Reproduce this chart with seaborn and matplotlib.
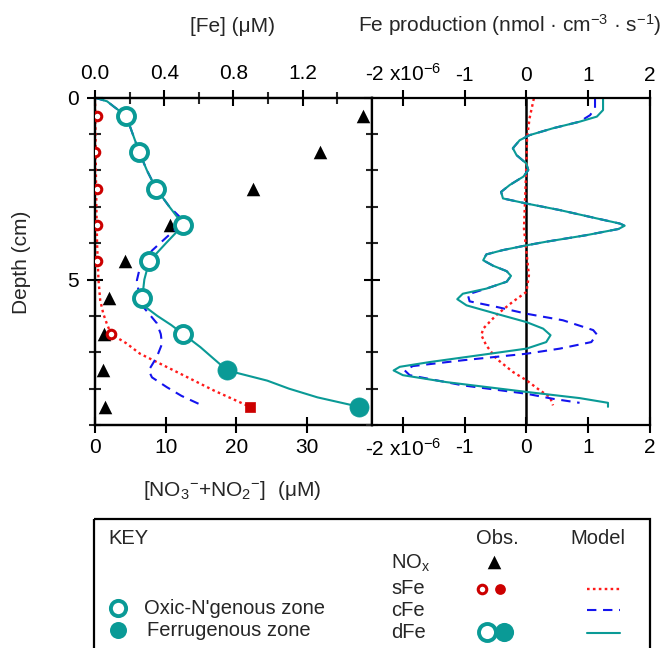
import numpy as np
import matplotlib
matplotlib.use('Agg')
import matplotlib.pyplot as plt
import seaborn as sns
from matplotlib.patches import Rectangle

# ----------------------------------------------------------------------------
# Data

# observations, left panel
obs_depth = [0.5, 1.5, 2.5, 3.5, 4.5, 5.5, 6.5, 7.5, 8.5]
dfe_obs = [0.18, 0.256, 0.353, 0.51, 0.313, 0.273, 0.51, 0.764, 1.527]
dfe_zone = ['oxic'] * 7 + ['ferr'] * 2
nox_obs = [37.9, 31.8, 22.3, 10.65, 4.29, 2.0, 1.27, 1.09, 1.46]
sfe_depth = [0.5, 1.5, 2.5, 3.5, 4.5, 6.5, 8.5]
sfe_obs = [0.01, 0.0, 0.01, 0.01, 0.01, 0.093, 0.895]
sfe_zone = ['oxic'] * 6 + ['ferr']

# model, left panel (uM)
dfe_mod_depth = [0.0, 0.1, 0.25, 0.5, 1.0, 1.5, 2.0, 2.5, 3.0, 3.5, 4.0, 4.5,
                 5.0, 5.5, 5.75, 6.0, 6.25, 6.5, 6.86, 7.18, 7.5, 7.78, 8.0,
                 8.24, 8.5]
dfe_mod = [0.0, 0.07, 0.11, 0.18, 0.218, 0.256, 0.30, 0.353, 0.43, 0.51, 0.41,
           0.313, 0.285, 0.273, 0.29, 0.36, 0.44, 0.51, 0.609, 0.686, 0.764,
           0.995, 1.12, 1.285, 1.527]
cfe_mod_depth = [0.0, 0.1, 0.25, 0.5, 1.0, 1.5, 2.0, 2.5, 3.0, 3.28, 3.45, 3.6,
                 3.83, 4.2, 4.5, 4.66, 5.02, 5.3, 5.76, 6.2, 6.5, 6.77, 7.13,
                 7.5, 7.69, 7.96, 8.2, 8.42]
cfe_mod = [0.0, 0.07, 0.11, 0.18, 0.218, 0.256, 0.30, 0.353, 0.43, 0.49, 0.5,
           0.47, 0.415, 0.33, 0.28, 0.26, 0.242, 0.251, 0.28, 0.357, 0.38,
           0.387, 0.357, 0.31, 0.329, 0.415, 0.5, 0.6]
sfe_mod_depth = [0.0, 1.0, 2.0, 3.0, 4.0, 5.0, 5.57, 5.94, 6.21, 6.5, 6.75,
                 7.04, 7.5, 8.05, 8.5]
sfe_mod = [0.0, 0.003, 0.005, 0.008, 0.012, 0.02, 0.03, 0.048, 0.068, 0.093,
           0.18, 0.26, 0.455, 0.686, 0.895]

# model, right panel (Fe production, x1e-6 nmol cm-3 s-1)
dfe_prod_depth = [0.02, 0.34, 0.52, 0.66, 0.84, 1.03, 1.17, 1.39, 1.58, 1.81,
                  1.99, 2.17, 2.40, 2.59, 2.77, 2.91, 3.09, 3.32, 3.46, 3.52,
                  3.61, 3.78, 3.96, 4.06, 4.19, 4.31, 4.47, 4.62, 4.77, 4.90,
                  5.06, 5.25, 5.39, 5.54, 5.71, 5.94, 6.17, 6.35, 6.53, 6.72,
                  6.90, 7.08, 7.27, 7.40, 7.50, 7.63, 7.82, 8.09, 8.26, 8.39,
                  8.50]
dfe_prod = [1.24, 1.24, 1.14, 0.86, 0.43, 0.05, -0.11, -0.22, -0.16, 0.0,
            0.03, -0.05, -0.27, -0.41, -0.38, 0.0, 0.54, 1.14, 1.51, 1.59,
            1.49, 0.97, 0.32, 0.0, -0.38, -0.65, -0.70, -0.54, -0.32, -0.25,
            -0.32, -0.65, -1.03, -1.12, -0.97, -0.49, 0.0, 0.27, 0.39, 0.32,
            0.0, -0.76, -1.57, -2.05, -2.15, -2.0, -1.30, 0.0, 0.86, 1.32,
            1.32]
cfe_prod_depth = [0.02, 0.29, 0.48, 0.66, 0.84, 1.03, 1.17, 1.39, 1.58, 1.81,
                  1.99, 2.17, 2.40, 2.59, 2.77, 2.91, 3.09, 3.32, 3.46, 3.52,
                  3.61, 3.78, 3.96, 4.06, 4.19, 4.31, 4.47, 4.62, 4.77, 4.90,
                  5.06, 5.25, 5.41, 5.60, 5.75, 5.94, 6.12, 6.39, 6.51, 6.72,
                  6.90, 7.04, 7.22, 7.38, 7.50, 7.63, 7.91, 8.14, 8.28, 8.39]
cfe_prod = [1.11, 1.11, 1.03, 0.86, 0.43, 0.05, -0.11, -0.22, -0.16, 0.0,
            0.03, -0.05, -0.27, -0.41, -0.38, 0.0, 0.54, 1.14, 1.51, 1.59,
            1.49, 0.97, 0.32, 0.0, -0.38, -0.65, -0.70, -0.54, -0.32, -0.25,
            -0.32, -0.65, -0.95, -0.92, -0.49, 0.0, 0.59, 1.08, 1.14, 1.05,
            0.54, 0.0, -1.03, -1.84, -1.97, -1.89, -1.03, 0.0, 0.43, 0.86]
sfe_prod_depth = [0.02, 0.57, 1.12, 1.76, 2.68, 3.60, 4.24, 4.88, 5.34, 5.61,
                  5.98, 6.35, 6.53, 6.81, 7.17, 7.54, 7.77, 8.05, 8.23, 8.46]
sfe_prod = [0.12, 0.05, 0.01, 0.0, -0.02, -0.04, 0.0, 0.04, 0.0, -0.22,
            -0.49, -0.70, -0.73, -0.65, -0.49, -0.22, 0.0, 0.22, 0.38, 0.43]

fe_ticks = [0.0, 0.4, 0.8, 1.2]
nox_ticks = [0, 10, 20, 30]
prod_ticks = [-2, -1, 0, 1, 2]
prod_labels = ['-2 x10$^{-6}$', '-1', '0', '1', '2']

# ----------------------------------------------------------------------------
# Style

sns.set_theme(style='ticks')
plt.rcParams['font.family'] = ['Liberation Sans', 'DejaVu Sans']
plt.rcParams['mathtext.fontset'] = 'custom'
plt.rcParams['mathtext.rm'] = 'Liberation Sans'
plt.rcParams['mathtext.it'] = 'Liberation Sans'
plt.rcParams['mathtext.default'] = 'regular'
plt.rcParams['axes.unicode_minus'] = False

TEAL = '#0a9a96'
RED_L = '#ff1a1a'
RED_M = '#cc0000'
BLUE = '#1414ee'
FS = 15
FS_KEY = 14.5

W, H = 661, 648
x0, xm, x1 = 95, 372, 650
yt, yb = 97.7, 425

fig = plt.figure(figsize=(W / 100, H / 100), dpi=100)
axL = fig.add_axes([x0 / W, 1 - yb / H, (xm - x0) / W, (yb - yt) / H])
axF = axL.twiny()
axR = fig.add_axes([xm / W, 1 - yb / H, (x1 - xm) / W, (yb - yt) / H])

dot = (0, (1.1, 1.4))
dash = (0, (4.5, 3.2))

# ----------------------------------------------------------------------------
# Left panel: concentrations

sns.lineplot(x=sfe_mod, y=sfe_mod_depth, orient='y', sort=False, estimator=None,
             ax=axF, color=RED_L, lw=1.7, linestyle=dot)
sns.lineplot(x=cfe_mod, y=cfe_mod_depth, orient='y', sort=False, estimator=None,
             ax=axF, color=BLUE, lw=1.5, linestyle=dash)
sns.lineplot(x=dfe_mod, y=dfe_mod_depth, orient='y', sort=False, estimator=None,
             ax=axF, color=TEAL, lw=1.5)

sns.scatterplot(x=nox_obs, y=obs_depth, ax=axL, marker='^', s=95,
                color='black', linewidth=0, zorder=5)

dfe_o = [(v, d) for v, d, z in zip(dfe_obs, obs_depth, dfe_zone) if z == 'oxic']
dfe_f = [(v, d) for v, d, z in zip(dfe_obs, obs_depth, dfe_zone) if z == 'ferr']
sns.scatterplot(x=[p[0] for p in dfe_o], y=[p[1] for p in dfe_o], ax=axF,
                s=150, color='white', edgecolor=TEAL, linewidth=2.8, zorder=6)
sns.scatterplot(x=[p[0] for p in dfe_f], y=[p[1] for p in dfe_f], ax=axF,
                s=190, color=TEAL, edgecolor=TEAL, linewidth=0.5, zorder=6)

sfe_o = [(v, d) for v, d, z in zip(sfe_obs, sfe_depth, sfe_zone) if z == 'oxic']
sfe_f = [(v, d) for v, d, z in zip(sfe_obs, sfe_depth, sfe_zone) if z == 'ferr']
sns.scatterplot(x=[p[0] for p in sfe_o], y=[p[1] for p in sfe_o], ax=axF,
                s=38, color='white', edgecolor=RED_M, linewidth=2.2, zorder=7)
sns.scatterplot(x=[p[0] for p in sfe_f], y=[p[1] for p in sfe_f], ax=axF,
                marker='s', s=55, color=RED_M, edgecolor=RED_M, linewidth=0.5,
                zorder=7)

axL.set_xlim(0, 39.2)
axF.set_xlim(0, 1.6)
axL.set_ylim(9, 0)

axL.set_xticks(nox_ticks)
axL.set_xticklabels([str(t) for t in nox_ticks])
axF.set_xticks(fe_ticks)
axF.set_xticklabels(['%.1f' % t for t in fe_ticks])
axF.set_xticks([0.2, 0.6, 1.0, 1.4], minor=True)
axL.set_yticks([0, 5])
axL.set_yticks([1, 2, 3, 4, 6, 7, 8, 9], minor=True)
axL.set_yticklabels(['0', '5'])
axL.set_xlabel('')
axL.set_ylabel('')
axF.set_xlabel('')
axF.set_ylabel('')

# ----------------------------------------------------------------------------
# Right panel: Fe production

axR.axvline(0, color='black', lw=1.8, zorder=1)
sns.lineplot(x=sfe_prod, y=sfe_prod_depth, orient='y', sort=False,
             estimator=None, ax=axR, color=RED_L, lw=1.7, linestyle=dot)
sns.lineplot(x=cfe_prod, y=cfe_prod_depth, orient='y', sort=False,
             estimator=None, ax=axR, color=BLUE, lw=1.5, linestyle=dash)
sns.lineplot(x=dfe_prod, y=dfe_prod_depth, orient='y', sort=False,
             estimator=None, ax=axR, color=TEAL, lw=1.5)
axR.set_xlim(-2.5, 2.0)
axR.set_ylim(9, 0)
axR.set_xticks(prod_ticks)
axR.set_xticklabels(prod_labels)
axR.set_yticks([0, 5])
axR.set_yticks([1, 2, 3, 4, 6, 7, 8, 9], minor=True)
axR.set_yticklabels([])
axR.set_xlabel('')
axR.set_ylabel('')

# ----------------------------------------------------------------------------
# Ticks and spines

for ax in (axL, axF, axR):
    for sp in ax.spines.values():
        sp.set_linewidth(1.6)
        sp.set_color('black')
    ax.tick_params(which='major', direction='inout', length=11, width=1.5,
                   labelsize=FS, colors='black')
    ax.tick_params(which='minor', direction='inout', length=8, width=1.5)

axL.tick_params(axis='x', top=False, labeltop=False, bottom=True,
                labelbottom=True, pad=4)
axL.tick_params(axis='y', left=True, right=False, which='both', pad=6)
axF.tick_params(axis='x', which='both', top=True, labeltop=True,
                bottom=False, labelbottom=False, pad=5)
axR.tick_params(axis='x', top=True, labeltop=True, bottom=True,
                labelbottom=True, pad=4)
axR.tick_params(axis='y', which='both', left=True, right=False,
                labelleft=False)

fig.text(233 / W, 1 - 27 / H, '[Fe] (\u03bcM)', ha='center', va='center',
         fontsize=FS)
fig.text(510 / W, 1 - 25 / H,
         'Fe production (nmol \u00b7 cm$^{-3}$ \u00b7 s$^{-1}$)',
         ha='center', va='center', fontsize=FS)
fig.text(232 / W, 1 - 490 / H,
         '[NO$_3$$^{-}$+NO$_2$$^{-}$]  (\u03bcM)', ha='center', va='center',
         fontsize=FS)
fig.text(22 / W, 1 - 262 / H, 'Depth (cm)', rotation=90, ha='center',
         va='center', fontsize=FS)

# ----------------------------------------------------------------------------
# Key box

axK = fig.add_axes([0, 0, 1, 1])
axK.set_xlim(0, W)
axK.set_ylim(H, 0)
axK.axis('off')
axK.add_patch(Rectangle((94, 519), 556, 140, fill=False, lw=1.6,
                        edgecolor='black'))
kw = dict(fontsize=FS_KEY, va='center')
axK.text(108, 539, 'KEY', ha='left', **kw)
axK.text(497, 539, 'Obs.', ha='center', **kw)
axK.text(598, 539, 'Model', ha='center', **kw)
axK.text(391, 563, 'NO$_x$', ha='left', **kw)
axK.text(391, 589, 'sFe', ha='left', **kw)
axK.text(391, 610, 'cFe', ha='left', **kw)
axK.text(391, 632, 'dFe', ha='left', **kw)
axK.text(144, 608, "Oxic-N'genous zone", ha='left', **kw)
axK.text(147, 630, 'Ferrugenous zone', ha='left', **kw)

axK.scatter([494], [562], marker='^', s=95, color='black', linewidths=0)
axK.scatter([482], [589], s=38, color='white', edgecolors=RED_M, linewidths=2.2)
axK.scatter([500], [589], s=60, color=RED_M, linewidths=0)
axK.scatter([487], [632], s=150, color='white', edgecolors=TEAL, linewidths=2.8)
axK.scatter([504], [632], s=190, color=TEAL, linewidths=0)
axK.scatter([118], [608], s=120, color='white', edgecolors=TEAL, linewidths=2.8)
axK.scatter([118], [630], s=150, color=TEAL, linewidths=0)
axK.plot([587, 620], [589, 589], color=RED_L, lw=1.7, linestyle=dot)
axK.plot([587, 620], [610, 610], color=BLUE, lw=1.5, linestyle=dash)
axK.plot([587, 620], [633, 633], color=TEAL, lw=1.5)

fig.savefig('out.png', dpi=100)
